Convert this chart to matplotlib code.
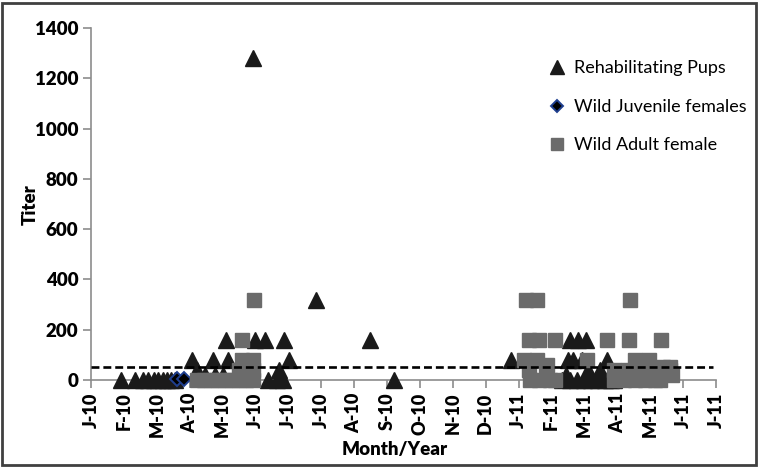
import matplotlib
matplotlib.use("Agg")
import matplotlib.pyplot as plt
from matplotlib.patches import Rectangle

# x values are days counted from 2 Jan 2010 (axis ticks every 30 days)
tick_labels = ["J-10", "F-10", "M-10", "A-10", "M-10", "J-10", "J-10", "J-10", "A-10", "S-10",
               "O-10", "N-10", "D-10", "J-11", "F-11", "M-11", "A-11", "M-11", "J-11", "J-11"]
threshold = 50

pups_day = [27, 40, 47, 52, 57, 61, 66, 69, 73, 77,
            92, 97, 104, 111, 113, 120, 123, 125, 148, 150,
            159, 161, 170, 171, 175, 176, 181, 205, 254, 276,
            383, 430, 433, 435, 437, 437, 440, 443, 444, 448,
            450, 451, 453, 456, 462, 464, 469, 471, 474, 477, 501]
pups_titer = [0, 0, 0, 0, 0, 0, 0, 0, 0, 0,
              80, 40, 20, 80, 20, 20, 160, 80, 1280, 160,
              160, 0, 0, 40, 0, 160, 80, 320, 160, 0,
              80, 0, 20, 80, 160, 0, 80, 0, 160, 80,
              0, 160, 40, 0, 0, 40, 0, 80, 0, 0, 40]

juv_day = [78, 85]
juv_titer = [5, 5]

adult_day = [97, 103, 109, 116, 122, 129, 135, 141, 148,
             135, 141, 148, 138, 148, 138, 149,
             397, 407, 492,
             399, 409, 423, 471, 491, 520,
             395, 407, 452, 496, 509,
             416, 522, 528,
             399, 415, 477, 490, 503, 516, 528,
             400, 409, 419, 423, 477, 486, 496, 505, 514, 519, 530]
adult_titer = [0, 0, 0, 0, 0, 0, 0, 0, 0,
               40, 40, 40, 80, 80, 160, 320,
               320, 320, 320,
               160, 160, 160, 160, 160, 160,
               80, 80, 80, 80, 80,
               60, 50, 50,
               40, 40, 40, 40, 40, 40, 40,
               0, 0, 0, 0, 0, 0, 0, 0, 0, 0, 20]

plt.rcParams["font.family"] = ["Lato", "DejaVu Sans"]

fig = plt.figure(figsize=(7.64, 4.72), dpi=100)
ax = fig.add_axes([91 / 764, 92 / 472, 625 / 764, 352 / 472])

ax.plot(pups_day, pups_titer, ls="none", marker="^", ms=11.5, color="#1a1a1a",
        mec="#1a1a1a", clip_on=False, zorder=3, label="Rehabilitating Pups")
ax.plot(juv_day, juv_titer, ls="none", marker="D", ms=7.5, color="black",
        mec="#1f3f8f", mew=1.4, clip_on=False, zorder=4, label="Wild Juvenile females")
ax.plot(adult_day, adult_titer, ls="none", marker="s", ms=10, color="#6b6b6b",
        mec="#6b6b6b", clip_on=False, zorder=5, label="Wild Adult female")
ax.axhline(threshold, xmin=0, xmax=0.995, color="black", ls=(0, (3, 1.5)), lw=1.9, zorder=6)

ax.set_xlim(0, 30 * (len(tick_labels) - 1))
ax.set_ylim(0, 1400)
ax.set_xticks([30 * i for i in range(len(tick_labels))])
ax.set_xticklabels(tick_labels, rotation=90, fontsize=13, fontweight="heavy")
ax.set_yticks(range(0, 1401, 200))
ax.set_yticklabels([str(v) for v in range(0, 1401, 200)], fontsize=13.5, fontweight="heavy")

for s in ["top", "right"]:
    ax.spines[s].set_visible(False)
for s in ["left", "bottom"]:
    ax.spines[s].set_color("#8c8c8c")
    ax.spines[s].set_linewidth(1.2)
ax.tick_params(axis="both", direction="out", length=6, color="#8c8c8c", width=1.2, pad=3)

fig.text(395 / 764, 1 - 450 / 472, "Month/Year", ha="center", va="center",
         fontsize=13.5, fontweight="heavy")
fig.text(30 / 764, 1 - 205 / 472, "Titer", ha="center", va="center", rotation=90,
         fontsize=13.5, fontweight="heavy")

leg = ax.legend(loc="upper left", bbox_to_anchor=(532 / 764, 1 - 44 / 472),
                bbox_transform=fig.transFigure, frameon=False, fontsize=13,
                labelspacing=1.25, handlelength=1.0, handletextpad=0.4, markerscale=0.85)

fig.patches.append(Rectangle((2 / 764, 1 - 465 / 472), 754 / 764, 462 / 472,
                             transform=fig.transFigure, fill=False, ec="#404040", lw=2))

fig.savefig("out.png", dpi=100)
